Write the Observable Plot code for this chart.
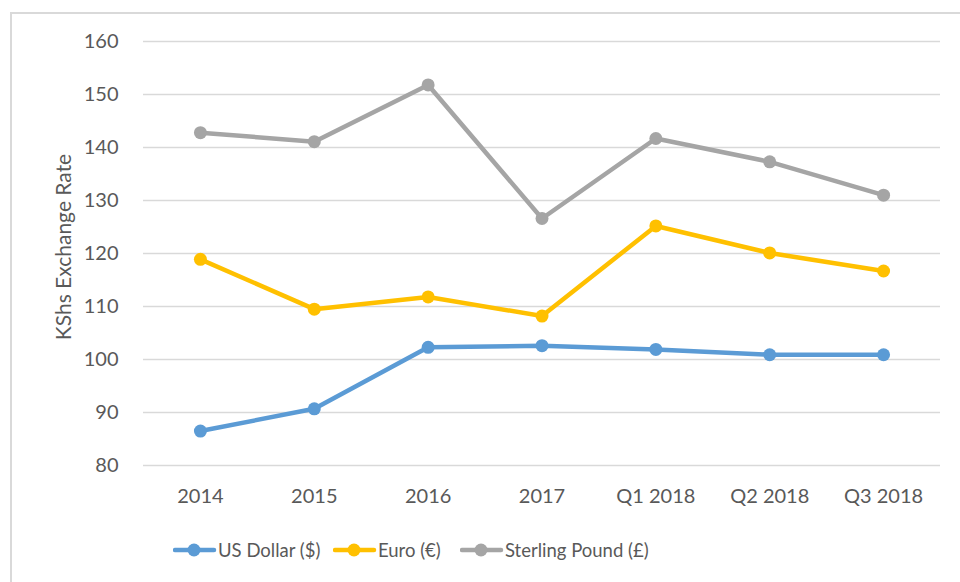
<!DOCTYPE html>
<html>
<head>
<meta charset="utf-8">
<script src="https://cdn.jsdelivr.net/npm/d3@7"></script>
<script src="https://cdn.jsdelivr.net/npm/@observablehq/plot@0.6"></script>
<style>
  html, body { margin: 0; padding: 0; background: #fff; overflow: hidden; }
  body { width: 960px; height: 582px; position: relative; font-family: Lato, "Open Sans", sans-serif; }
  #frame { position: absolute; left: 10px; top: 12px; width: 1200px; height: 1200px; border: 2px solid #d9d9d9; box-sizing: border-box; }
  #chart { position: absolute; left: 0; top: 0; }
  #ylabel { position: absolute; left: 62px; top: 247px; transform: translate(-50%, -50%) rotate(-90deg); white-space: nowrap; font-size: 21px; color: #595959; }
  #legend { position: absolute; left: 0; top: 530px; width: 960px; height: 40px; }
  #legend .item { position: absolute; top: 0; height: 40px; display: flex; align-items: center; font-size: 18.5px; color: #595959; white-space: nowrap; }
</style>
</head>
<body>
<div id="frame"></div>
<div id="chart"></div>
<div id="ylabel"></div>
<div id="legend"></div>
<script>
const categories = ["2014", "2015", "2016", "2017", "Q1 2018", "Q2 2018", "Q3 2018"];
const seriesNames = ["US Dollar ($)", "Euro (€)", "Sterling Pound (£)"];
const seriesColors = ["#5B9BD5", "#FFC000", "#A5A5A5"];
const usDollar = [86.5, 90.7, 102.3, 102.6, 101.9, 100.9, 100.9];
const euro = [118.9, 109.5, 111.8, 108.2, 125.2, 120.1, 116.7];
const sterling = [142.8, 141.1, 151.8, 126.6, 141.7, 137.3, 131.0];
const yTicks = [80, 90, 100, 110, 120, 130, 140, 150, 160];
const yLabel = "KShs Exchange Rate";

const seriesValues = [usDollar, euro, sterling];
const data = [];
seriesNames.forEach((s, i) => categories.forEach((c, j) => data.push({series: s, category: c, value: seriesValues[i][j]})));

const chart = Plot.plot({
  width: 960,
  height: 510,
  marginTop: 41,
  marginLeft: 143,
  marginRight: 20,
  marginBottom: 45,
  style: {fontFamily: "Lato, 'Open Sans', sans-serif", fontSize: "20px", color: "#595959", background: "transparent"},
  x: {type: "point", domain: categories, padding: 0.5, round: false, label: null},
  y: {domain: [80, 160], ticks: yTicks, label: null},
  color: {domain: seriesNames, range: seriesColors},
  marks: [
    Plot.gridY(yTicks, {stroke: "#d9d9d9", strokeOpacity: 1, strokeWidth: 1.5}),
    Plot.axisY(yTicks, {tickSize: 0, tickPadding: 25, fontSize: 20, fill: "#595959", label: null}),
    Plot.axisX({tickSize: 0, tickPadding: 23, fontSize: 20, fill: "#595959", label: null}),
    Plot.line(data, {x: "category", y: "value", z: "series", stroke: "series", strokeWidth: 4.5, strokeLinejoin: "round"}),
    Plot.dot(data, {x: "category", y: "value", fill: "series", r: 6.5})
  ]
});
document.getElementById("chart").appendChild(chart);
document.getElementById("ylabel").textContent = yLabel;

// legend
const legendX = [173, 333, 460];
const legend = document.getElementById("legend");
seriesNames.forEach((name, i) => {
  const item = document.createElement("div");
  item.className = "item";
  item.style.left = legendX[i] + "px";
  const svg = d3.create("svg").attr("width", 44).attr("height", 20);
  svg.append("line").attr("x1", 2).attr("x2", 41).attr("y1", 10).attr("y2", 10)
    .attr("stroke", seriesColors[i]).attr("stroke-width", 4.5).attr("stroke-linecap", "round");
  svg.append("circle").attr("cx", 21).attr("cy", 10).attr("r", 6.5).attr("fill", seriesColors[i]);
  item.appendChild(svg.node());
  const span = document.createElement("span");
  span.textContent = name;
  span.style.marginLeft = "1px";
  item.appendChild(span);
  legend.appendChild(item);
});
</script>
</body>
</html>
